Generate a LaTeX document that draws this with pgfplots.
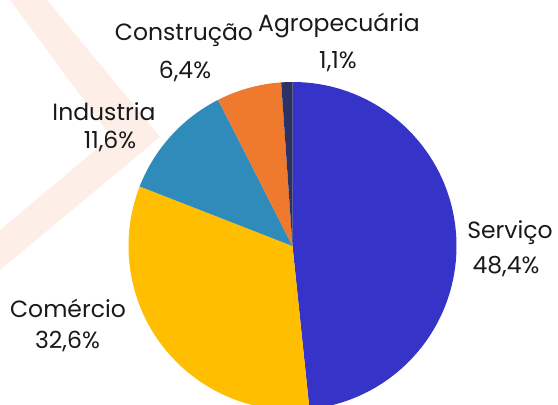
\documentclass[border=0pt]{standalone}
\usepackage{pgfplots}
\pgfplotsset{compat=1.18}
\usepackage{pgfplotstable}
\usepackage{fontspec}
\setmainfont{Poppins}

% wedge colours, in table order
\definecolor{w0}{HTML}{3633C8}
\definecolor{w1}{HTML}{FFBE00}
\definecolor{w2}{HTML}{2E8BBA}
\definecolor{w3}{HTML}{EF7A2D}
\definecolor{w4}{HTML}{2C3263}
\definecolor{peach}{RGB}{253,239,231}

% share of each sector (%), clockwise from the top
\pgfplotstableread{
name value
Servico 48.4
Comercio 32.6
Industria 11.6
Construcao 6.4
Agropecuaria 1.1
}\piedata

\begin{document}
\begin{tikzpicture}
% start / end angle of every wedge
\gdef\acc{0}
\foreach \i in {0,...,4}{
  \pgfplotstablegetelem{\i}{value}\of\piedata
  \pgfmathsetmacro{\sa}{90-\acc/100.1*360}
  \pgfmathsetmacro{\newacc}{\acc+\pgfplotsretval}
  \pgfmathsetmacro{\ea}{90-\newacc/100.1*360}
  \expandafter\xdef\csname as\i\endcsname{\sa}
  \expandafter\xdef\csname ae\i\endcsname{\ea}
  \xdef\acc{\newacc}
}
\begin{axis}[
    name=ax,
    x=1pt, y=1pt,
    xmin=0, xmax=558, ymin=-405, ymax=0,
    hide axis,
    scale only axis,
]
% background chevron
\fill[peach] (axis cs:10,0) -- (axis cs:47,0) -- (axis cs:160,-137)
    -- (axis cs:0,-270) -- (axis cs:0,-230) -- (axis cs:111,-137) -- cycle;

\pgfplotsinvokeforeach{0,...,4}{
  \fill[w#1] (axis cs:292.5,-246) -- ++(\csname as#1\endcsname:164pt)
     arc[start angle=\csname as#1\endcsname, end angle=\csname ae#1\endcsname, radius=164pt] -- cycle;
}

\tikzset{lab/.style={font=\fontsize{23.5}{27}\selectfont, inner sep=0pt, text=black!90}}
\node[lab] at (axis cs:510,-233) {Serviço};
\node[lab] at (axis cs:506,-267) {48,4\%};
\node[lab] at (axis cs:68,-308) {Comércio};
\node[lab] at (axis cs:67.5,-342) {32,6\%};
\node[lab] at (axis cs:104,-112) {Industria};
\node[lab] at (axis cs:110,-142) {11,6\%};
\node[lab] at (axis cs:184,-35) {Construção};
\node[lab] at (axis cs:185,-72) {6,4\%};
\node[lab] at (axis cs:339,-25) {Agropecuária};
\node[lab] at (axis cs:338,-62) {1,1\%};
\end{axis}
\pgfresetboundingbox
\path (ax.south west) rectangle (ax.north east);
\end{tikzpicture}
\end{document}
